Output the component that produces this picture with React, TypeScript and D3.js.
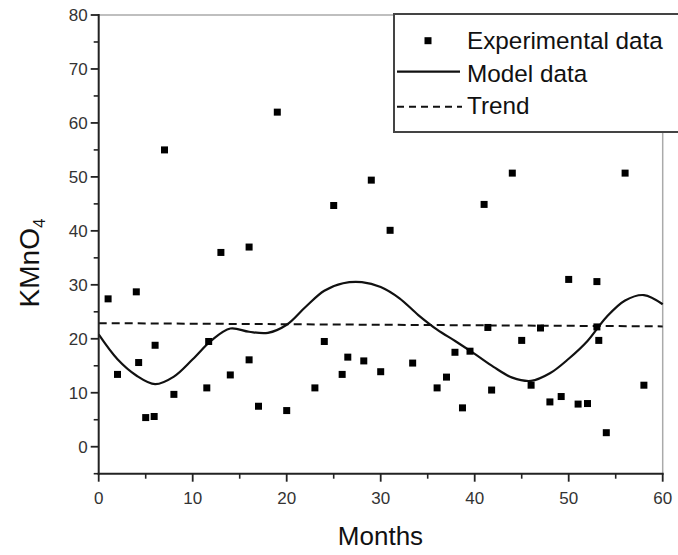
import React from "react";
import * as d3 from "d3";

// Monthly KMnO4 measurements
const expX = [1, 2, 4, 4.25, 5, 5.9, 6, 7, 8, 11.5, 11.7, 13, 14, 16, 16, 17, 19, 20, 23, 24, 25, 25.9, 26.5, 28.2, 29, 30, 31, 33.4, 36, 37, 37.9, 38.7, 39.5, 41, 41.4, 41.8, 44, 45, 46, 47, 48, 49.2, 50, 51, 52, 53, 53, 53.2, 54, 56, 58];
const expY = [27.4, 13.4, 28.7, 15.6, 5.4, 5.6, 18.8, 55, 9.7, 10.9, 19.5, 36, 13.3, 37, 16.1, 7.5, 62, 6.7, 10.9, 19.5, 44.7, 13.4, 16.6, 15.9, 49.4, 13.9, 40.1, 15.5, 10.9, 12.9, 17.5, 7.2, 17.7, 44.9, 22.1, 10.5, 50.7, 19.7, 11.4, 22, 8.3, 9.3, 31, 7.9, 8.0, 30.6, 22.2, 19.7, 2.6, 50.7, 11.4];

// Model output
const modelX = [0, 2, 4, 6, 8, 10, 12, 14, 16, 18, 20, 22, 24, 26, 28, 30, 32, 34, 36, 38, 40, 42, 44, 46, 48, 50, 52, 54, 56, 58, 60];
const modelY = [20.8, 16.2, 13.2, 11.6, 13.0, 16.2, 19.7, 21.9, 21.3, 21.1, 22.6, 25.9, 28.9, 30.3, 30.5, 29.6, 27.5, 24.4, 21.7, 19.5, 17.2, 14.8, 12.8, 12.2, 13.6, 16.3, 19.6, 24.0, 27.1, 28.1, 26.4];

// Linear trend
const trendX = [0, 60];
const trendY = [22.9, 22.3];

const xTicks = [0, 10, 20, 30, 40, 50, 60];
const xMinor = [5, 15, 25, 35, 45, 55];
const yTicks = [0, 10, 20, 30, 40, 50, 60, 70, 80];
const yMinor = [-5, 5, 15, 25, 35, 45, 55, 65, 75];

const W = 678;
const H = 555;
const font = "'Liberation Sans', Arial, sans-serif";

export default function App() {
  const x = d3.scaleLinear().domain([0, 60]).range([98.7, 662.7]);
  const y = d3.scaleLinear().domain([-5, 80]).range([473.7, 15]);
  const x0 = x(0);
  const x1 = x(60);
  const yb = y(-5);
  const yt = y(80);

  const model = d3
    .line<number>()
    .x((_, i) => x(modelX[i]))
    .y((d) => y(d))
    .curve(d3.curveCatmullRom.alpha(0.5))(modelY) as string;

  const trend = d3
    .line<number>()
    .x((_, i) => x(trendX[i]))
    .y((d) => y(d))(trendY) as string;

  const ms = 7;
  const legX = 394;
  const legY = 14;

  return (
    <svg
      width={W}
      height={H}
      style={{ position: "absolute", left: 0, top: 0, background: "#fff" }}
      fontFamily={font}
    >
      <rect width={W} height={H} fill="#fff" />
      {/* frame: top and right in grey */}
      <line x1={x0} x2={x1} y1={yt} y2={yt} stroke="#aaa" strokeWidth={1.5} />
      <line x1={x1} x2={x1} y1={yt} y2={yb} stroke="#aaa" strokeWidth={1.5} />

      {/* trend */}
      <path d={trend} fill="none" stroke="#111" strokeWidth={2} strokeDasharray="8,5" />
      {/* model */}
      <path d={model} fill="none" stroke="#111" strokeWidth={2.2} />

      {/* experimental points */}
      {expX.map((v, i) => (
        <rect
          key={i}
          x={x(v) - ms / 2}
          y={y(expY[i]) - ms / 2}
          width={ms}
          height={ms}
          fill="#000"
        />
      ))}

      {/* left axis */}
      <line x1={x0} x2={x0} y1={yt - 1} y2={yb + 1} stroke="#222" strokeWidth={2} />
      {yTicks.map((t) => (
        <g key={"yt" + t}>
          <line x1={x0 - 8} x2={x0} y1={y(t)} y2={y(t)} stroke="#222" strokeWidth={1.8} />
          <text x={x0 - 11} y={y(t) + 6} fontSize={17} textAnchor="end" fill="#333">
            {t}
          </text>
        </g>
      ))}
      {yMinor.map((t) => (
        <line key={"ym" + t} x1={x0 - 5} x2={x0} y1={y(t)} y2={y(t)} stroke="#222" strokeWidth={1.6} />
      ))}

      {/* bottom axis */}
      <line x1={x0 - 1} x2={x1 + 1} y1={yb} y2={yb} stroke="#222" strokeWidth={2} />
      {xTicks.map((t) => (
        <g key={"xt" + t}>
          <line x1={x(t)} x2={x(t)} y1={yb} y2={yb + 8} stroke="#222" strokeWidth={1.8} />
          <text x={x(t)} y={504} fontSize={17} textAnchor="middle" fill="#333">
            {t}
          </text>
        </g>
      ))}
      {xMinor.map((t) => (
        <line key={"xm" + t} x1={x(t)} x2={x(t)} y1={yb} y2={yb + 5} stroke="#222" strokeWidth={1.6} />
      ))}

      {/* axis titles */}
      <text x={380.5} y={545} fontSize={26} textAnchor="middle" fill="#111">
        Months
      </text>
      <text
        transform="translate(39,263) rotate(-90)"
        fontSize={28}
        textAnchor="middle"
        fill="#111"
      >
        KMnO
        <tspan fontSize={17} dy={6}>
          4
        </tspan>
      </text>

      {/* legend */}
      <rect x={legX} y={legY} width={300} height={118} fill="#fff" stroke="#444" strokeWidth={2} />
      <rect x={428 - ms / 2} y={40.7 - ms / 2} width={ms} height={ms} fill="#000" />
      <line x1={397} x2={460} y1={71.7} y2={71.7} stroke="#111" strokeWidth={2.2} />
      <line x1={397} x2={462} y1={106.7} y2={106.7} stroke="#111" strokeWidth={2} strokeDasharray="7,5" />
      <text x={467} y={49} fontSize={24.3} fill="#111">
        Experimental data
      </text>
      <text x={467} y={81.7} fontSize={24.3} fill="#111">
        Model data
      </text>
      <text x={467} y={114.3} fontSize={24.3} fill="#111">
        Trend
      </text>
    </svg>
  );
}
